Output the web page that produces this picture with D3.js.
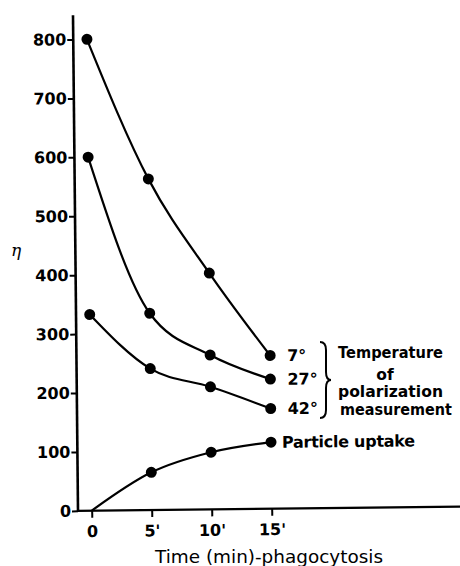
<!DOCTYPE html>
<html>
<head>
<meta charset="utf-8">
<script src="https://cdn.jsdelivr.net/npm/d3@7"></script>
<style>
  body { margin: 0; background: #fff; }
  svg { display: block; font-family: "DejaVu Sans", sans-serif; }
</style>
</head>
<body>
<svg id="chart" width="460" height="566"></svg>
<script>
var times = [0, 5, 10, 15];
var eta7 = [800, 562, 401, 260];
var eta27 = [600, 334, 262, 220];
var eta42 = [333, 240, 208, 170];
var uptake = [0, 64, 97, 113];

var yTicks = [0, 100, 200, 300, 400, 500, 600, 700, 800];
var xTickLabels = ["0", "5'", "10'", "15'"];

var series = [
  { label: "7°", values: eta7, dx: 17, dot0: true },
  { label: "27°", values: eta27, dx: 17, dot0: true },
  { label: "42°", values: eta42, dx: 17, dot0: true },
  { label: "Particle uptake", values: uptake, dx: 11, dot0: false }
];

var svg = d3.select("#chart");

var x = d3.scaleLinear().domain([0, 15]).range([91.7, 271.7]);
var y = d3.scaleLinear().domain([0, 800]).range([510.7, 39.3]);

// the scanned figure is slightly skewed, so the whole plot is sheared a little
var g = svg.append("g")
  .attr("transform", "matrix(1,-0.011,0.0101,1,-5.16,1.01)");

var axisX0 = 78;

// axis lines
g.append("line")
  .attr("x1", axisX0).attr("x2", axisX0)
  .attr("y1", 15).attr("y2", y(0) + 1)
  .attr("stroke", "#000").attr("stroke-width", 2.6);

g.append("line")
  .attr("x1", axisX0 - 1).attr("x2", 470)
  .attr("y1", y(0)).attr("y2", y(0))
  .attr("stroke", "#000").attr("stroke-width", 2.4);

var yAxisG = g.append("g")
  .attr("transform", "translate(" + axisX0 + ",0)")
  .call(d3.axisLeft(y).tickValues(yTicks).tickSize(6).tickPadding(1));

var xAxisG = g.append("g")
  .attr("transform", "translate(0," + y(0) + ")")
  .call(d3.axisBottom(x).tickValues(times).tickSize(7).tickPadding(8)
    .tickFormat(function (d, i) { return xTickLabels[i]; }));

[yAxisG, xAxisG].forEach(function (a) {
  a.select(".domain").remove();
  a.selectAll(".tick line").attr("stroke", "#000").attr("stroke-width", 2);
  a.selectAll(".tick text")
    .attr("fill", "#000")
    .attr("font-family", "DejaVu Sans, sans-serif")
    .attr("font-size", 16)
    .attr("font-weight", "bold");
});

var line = d3.line()
  .x(function (d) { return x(d.t); })
  .y(function (d) { return y(d.v); })
  .curve(d3.curveMonotoneX);

series.forEach(function (s) {
  var pts = times.map(function (t, i) { return { t: t, v: s.values[i] }; });

  g.append("path")
    .datum(pts)
    .attr("d", line)
    .attr("fill", "none")
    .attr("stroke", "#000")
    .attr("stroke-width", 2.2);

  g.selectAll(null)
    .data(pts.filter(function (d) { return s.dot0 || d.t > 0; }))
    .enter().append("circle")
    .attr("cx", function (d) { return x(d.t); })
    .attr("cy", function (d) { return y(d.v); })
    .attr("r", 5.5)
    .attr("fill", "#000");

  var last = pts[pts.length - 1];
  g.append("text")
    .attr("x", x(last.t) + s.dx)
    .attr("y", y(last.v))
    .attr("dy", "0.36em")
    .attr("font-size", 16)
    .attr("font-weight", "bold")
    .attr("textLength", s.label.length > 5 ? 133 : null)
    .text(s.label);
});

// brace + note for the temperature curves
svg.append("path")
  .attr("d", "M320,342 Q326,342 326,350 L326,372 Q326,380 331,380 Q326,380 326,388 L326,410 Q326,418 320,418")
  .attr("fill", "none")
  .attr("stroke", "#000")
  .attr("stroke-width", 2);

var note = [
  { text: "Temperature", x: 390.5, y: 358, w: 105 },
  { text: "of", x: 385, y: 380, w: null },
  { text: "polarization", x: 390.5, y: 397, w: 105 },
  { text: "measurement", x: 396, y: 415, w: 112 }
];

svg.selectAll(".note")
  .data(note)
  .enter().append("text")
  .attr("class", "note")
  .attr("x", function (d) { return d.x; })
  .attr("y", function (d) { return d.y; })
  .attr("text-anchor", "middle")
  .attr("font-size", 15.5)
  .attr("font-weight", "bold")
  .attr("textLength", function (d) { return d.w; })
  .attr("lengthAdjust", "spacingAndGlyphs")
  .text(function (d) { return d.text; });

svg.append("text")
  .attr("x", 269)
  .attr("y", 563)
  .attr("text-anchor", "middle")
  .attr("font-size", 17.5)
  .attr("textLength", 228)
  .attr("lengthAdjust", "spacingAndGlyphs")
  .text("Time (min)-phagocytosis");

svg.append("text")
  .attr("x", 16)
  .attr("y", 256)
  .attr("text-anchor", "middle")
  .attr("font-size", 17)
  .attr("font-style", "italic")
  .attr("font-family", "DejaVu Serif, serif")
  .text("η");
</script>
</body>
</html>
